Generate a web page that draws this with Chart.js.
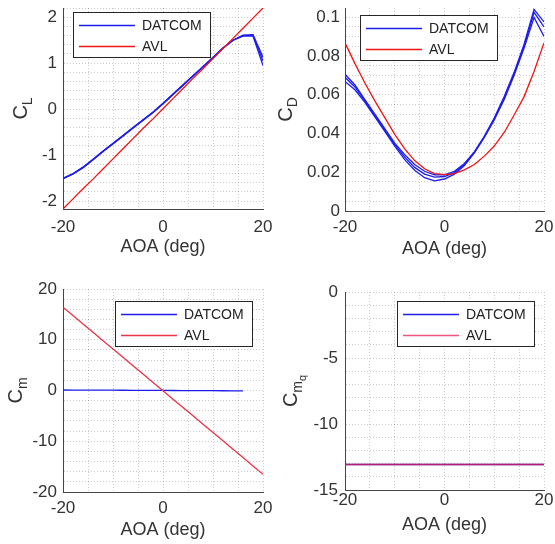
<!DOCTYPE html>
<html lang="en">
<head>
  <meta charset="UTF-8" />
  <title>DATCOM vs AVL</title>
  <style>
    body { margin: 0; background: #fff; }
    .panel { position: absolute; width: 278px; height: 272px; }
  </style>
  <script src="https://cdn.jsdelivr.net/npm/chart.js"></script>
</head>
<body>
  <div class="panel" style="left:0;top:0"><canvas id="cl" width="278" height="272"></canvas></div>
  <div class="panel" style="left:277px;top:0"><canvas id="cd" width="278" height="272"></canvas></div>
  <div class="panel" style="left:0;top:272px"><canvas id="cm" width="278" height="272"></canvas></div>
  <div class="panel" style="left:277px;top:272px"><canvas id="cmq" width="278" height="272"></canvas></div>

  <script>
    // angle of attack (deg)
    const aoa = [-20, -18, -16, -14, -12, -10, -8, -6, -4, -2, 0, 2, 4, 6, 8, 10, 12, 14, 16, 18, 20];
    const aoaCm = [-20, -18, -16, -14, -12, -10, -8, -6, -4, -2, 0, 2, 4, 6, 8, 10, 12, 14, 16];

    // lift
    const clDatcom1 = [-1.51, -1.41, -1.27, -1.10, -0.92, -0.75, -0.58, -0.41, -0.24, -0.07, 0.12, 0.32, 0.52, 0.72, 0.92, 1.12, 1.33, 1.50, 1.61, 1.62, 1.13];
    const clDatcom2 = [-1.51, -1.41, -1.27, -1.10, -0.92, -0.75, -0.58, -0.41, -0.24, -0.07, 0.12, 0.32, 0.52, 0.72, 0.92, 1.12, 1.33, 1.50, 1.60, 1.61, 1.05];
    const clDatcom3 = [-1.50, -1.40, -1.26, -1.09, -0.91, -0.74, -0.57, -0.40, -0.23, -0.06, 0.13, 0.33, 0.53, 0.73, 0.93, 1.13, 1.33, 1.50, 1.59, 1.59, 0.95];
    const clAvl = [-2.17, -1.95, -1.73, -1.52, -1.30, -1.08, -0.86, -0.64, -0.42, -0.21, 0.01, 0.23, 0.45, 0.67, 0.88, 1.10, 1.32, 1.54, 1.76, 1.98, 2.20];

    // drag
    const cdDatcom1 = [0.0705, 0.0650, 0.0575, 0.0500, 0.0425, 0.0350, 0.0290, 0.0240, 0.0205, 0.0187, 0.0186, 0.0205, 0.0245, 0.0305, 0.0385, 0.0480, 0.0590, 0.0715, 0.0860, 0.1040, 0.0975];
    const cdDatcom2 = [0.0690, 0.0640, 0.0568, 0.0492, 0.0417, 0.0342, 0.0278, 0.0225, 0.0190, 0.0175, 0.0178, 0.0198, 0.0240, 0.0302, 0.0382, 0.0475, 0.0582, 0.0708, 0.0850, 0.1025, 0.0950];
    const cdDatcom3 = [0.0668, 0.0625, 0.0560, 0.0485, 0.0410, 0.0335, 0.0265, 0.0210, 0.0172, 0.0155, 0.0165, 0.0190, 0.0235, 0.0300, 0.0380, 0.0470, 0.0575, 0.0700, 0.0840, 0.0998, 0.0900];
    const cdAvl = [0.0867, 0.0760, 0.0660, 0.0568, 0.0482, 0.0395, 0.0320, 0.0260, 0.0218, 0.0193, 0.0188, 0.0193, 0.0212, 0.0240, 0.0283, 0.0335, 0.0405, 0.0495, 0.0590, 0.0720, 0.0867];

    // pitching moment
    const cmDatcom = [0.10, 0.09, 0.09, 0.08, 0.07, 0.06, 0.05, 0.04, 0.03, 0.02, 0.01, 0.00, -0.01, -0.02, -0.03, -0.04, -0.05, -0.06, -0.07];
    const cmAvl = [16.40, 14.76, 13.11, 11.47, 9.82, 8.18, 6.53, 4.89, 3.24, 1.60, -0.05, -1.70, -3.34, -4.99, -6.63, -8.28, -9.92, -11.57, -13.21, -14.86, -16.50];

    // pitch damping
    const cmqDatcom = [-13.07, -13.07, -13.07, -13.07, -13.07, -13.07, -13.07, -13.07, -13.07, -13.07, -13.07, -13.07, -13.07, -13.07, -13.07, -13.07, -13.07, -13.07, -13.07, -13.07, -13.07];
    const cmqAvl = [-13.07, -13.07, -13.07, -13.07, -13.07, -13.07, -13.07, -13.07, -13.07, -13.07, -13.07, -13.07, -13.07, -13.07, -13.07, -13.07, -13.07, -13.07, -13.07, -13.07, -13.07];

    // tick labels
    const xTicks = [-20, 0, 20];
    const clTicks = [-2, -1, 0, 1, 2];
    const cdTicks = [0, 0.02, 0.04, 0.06, 0.08, 0.1];
    const cmTicks = [-20, -10, 0, 10, 20];
    const cmqTicks = [-15, -10, -5, 0];

    const FONT = '"Liberation Sans", Arial, Helvetica, sans-serif';
    const TXT = '#333';
    const BLUE = 'rgb(30,30,235)';
    const RED = 'rgb(240,20,20)';

    function pts(xs, ys) {
      return ys.map((y, i) => ({ x: xs[i], y: y }));
    }

    // grid at every minor step, label only the major ticks
    function minorTicks(min, max, step, major) {
      return {
        afterBuildTicks(s) {
          const list = [];
          for (let k = Math.ceil(min / step - 1e-6); k * step <= max + 1e-9; k++) {
            list.push({ value: +(k * step).toFixed(6) });
          }
          s.ticks = list;
        },
        callback(v) {
          return major.some(m => Math.abs(m - v) < step * 1e-3) ? String(+(+v).toFixed(4)) : '';
        }
      };
    }

    const yLabelPlugin = {
      id: 'ylab',
      afterDraw(chart, args, o) {
        const ctx = chart.ctx;
        const a = chart.chartArea;
        const parts = o.parts;
        ctx.save();
        let total = 0;
        parts.forEach(p => {
          ctx.font = p.size + 'px ' + FONT;
          p.w = ctx.measureText(p.t).width;
          total += p.w;
        });
        ctx.translate(o.x, (a.top + a.bottom) / 2 + (o.dy || 0));
        ctx.rotate(-Math.PI / 2);
        ctx.fillStyle = TXT;
        ctx.textBaseline = 'middle';
        let cx = -total / 2;
        parts.forEach(p => {
          ctx.font = p.size + 'px ' + FONT;
          ctx.fillText(p.t, cx, p.off);
          cx += p.w;
        });
        ctx.restore();
      }
    };

    const boxLegend = {
      id: 'boxLegend',
      afterDraw(chart, args, o) {
        const ctx = chart.ctx;
        const seen = [];
        chart.data.datasets.forEach(d => {
          if (!seen.find(s => s.label === d.label)) seen.push(d);
        });
        seen.sort((p, q) => p.legendRank - q.legendRank);
        ctx.save();
        ctx.fillStyle = '#fff';
        ctx.fillRect(o.x, o.y, 137, 45);
        ctx.strokeStyle = '#262626';
        ctx.lineWidth = 1;
        ctx.strokeRect(o.x + 0.5, o.y + 0.5, 137, 45);
        ctx.font = '14px ' + FONT;
        ctx.textBaseline = 'middle';
        seen.forEach((d, i) => {
          const yy = o.y + 13.5 + i * 21;
          ctx.strokeStyle = d.borderColor;
          ctx.lineWidth = 1.3;
          ctx.beginPath();
          ctx.moveTo(o.x + 6, yy);
          ctx.lineTo(o.x + 62, yy);
          ctx.stroke();
          ctx.fillStyle = '#222';
          ctx.fillText(d.label, o.x + 69, yy + 0.5);
        });
        ctx.restore();
      }
    };

    function makeChart(id, c) {
      const datasets = [];
      c.datcom.forEach(s => {
        datasets.push({ label: 'DATCOM', data: pts(s.x, s.y), borderColor: c.blue || BLUE, borderWidth: 1.3, pointRadius: 0, order: 1, legendRank: 0 });
      });
      datasets.push({ label: 'AVL', data: pts(c.avl.x, c.avl.y), borderColor: c.red || RED, borderWidth: 1.3, pointRadius: 0, order: 0, legendRank: 1 });

      const gridOpts = { color: 'rgba(0,0,0,0.2)', lineWidth: 1, drawTicks: false };
      const xt = minorTicks(-20, 20, 5, xTicks);
      const yt = minorTicks(c.ymin, c.ymax, c.ystep, c.yTicks);

      return new Chart(document.getElementById(id), {
        type: 'line',
        data: { datasets: datasets },
        plugins: [yLabelPlugin, boxLegend],
        options: {
          responsive: false,
          animation: false,
          layout: { padding: { left: 0, right: c.pad.right, top: c.pad.top, bottom: 0 } },
          plugins: {
            legend: { display: false },
            tooltip: { enabled: false },
            ylab: c.ylab,
            boxLegend: c.legend
          },
          scales: {
            x: {
              type: 'linear',
              min: -20,
              max: 20,
              grid: gridOpts,
              border: { display: true, color: '#444', width: 1, dash: [1, 2] },
              afterBuildTicks: xt.afterBuildTicks,
              afterFit(s) { s.height = c.xh; s.paddingLeft = 0; s.paddingRight = 0; },
              ticks: { callback: xt.callback, autoSkip: false, maxRotation: 0, padding: c.xpad, color: TXT, font: { family: FONT, size: 17 } },
              title: { display: true, text: 'AOA (deg)', color: TXT, font: { family: FONT, size: 18 }, padding: { top: 0, bottom: c.tpad } }
            },
            y: {
              type: 'linear',
              min: c.ymin,
              max: c.ymax,
              grid: gridOpts,
              border: { display: true, color: '#444', width: 1, dash: [1, 2] },
              afterBuildTicks: yt.afterBuildTicks,
              afterFit(s) { s.width = c.yw; s.paddingTop = 0; s.paddingBottom = 0; },
              ticks: { callback: yt.callback, autoSkip: false, padding: c.ypad, color: TXT, font: { family: FONT, size: 17 } }
            }
          }
        }
      });
    }

    makeChart('cl', {
      datcom: [{ x: aoa, y: clDatcom1 }, { x: aoa, y: clDatcom2 }, { x: aoa, y: clDatcom3 }],
      avl: { x: aoa, y: clAvl },
      ymin: -2.17, ymax: 2.2, ystep: 0.2, yTicks: clTicks,
      pad: { right: 15, top: 8 }, yw: 63, xh: 63, xpad: 8, tpad: 14, ypad: 6,
      ylab: { x: 21, parts: [{ t: 'C', size: 20, off: 0 }, { t: 'L', size: 14, off: 7 }] },
      legend: { x: 73, y: 12 }
    });

    makeChart('cd', {
      datcom: [{ x: aoa, y: cdDatcom1 }, { x: aoa, y: cdDatcom2 }, { x: aoa, y: cdDatcom3 }],
      avl: { x: aoa, y: cdAvl },
      ymin: 0, ymax: 0.1047, ystep: 0.005, yTicks: cdTicks,
      pad: { right: 11, top: 8 }, yw: 68, xh: 61, xpad: 6, tpad: 12, ypad: 5,
      ylab: { x: 9.5, parts: [{ t: 'C', size: 20, off: 0 }, { t: 'D', size: 14, off: 7 }] },
      legend: { x: 83, y: 15 }
    });

    makeChart('cm', {
      datcom: [{ x: aoaCm, y: cmDatcom }],
      avl: { x: aoa, y: cmAvl },
      red: 'rgb(235,50,70)',
      ymin: -20, ymax: 20, ystep: 2, yTicks: cmTicks,
      pad: { right: 15, top: 17 }, yw: 63, xh: 52, xpad: 6, tpad: 3, ypad: 6,
      ylab: { x: 16, parts: [{ t: 'C', size: 20, off: 0 }, { t: 'm', size: 14, off: 7 }] },
      legend: { x: 115, y: 29 }
    });

    makeChart('cmq', {
      datcom: [{ x: aoa, y: cmqDatcom }],
      avl: { x: aoa, y: cmqAvl },
      red: 'rgba(235,30,80,0.75)',
      ymin: -15, ymax: 0, ystep: 1, yTicks: cmqTicks,
      pad: { right: 11, top: 20 }, yw: 68, xh: 54, xpad: 0, tpad: 8, ypad: 7,
      ylab: { x: 14, parts: [{ t: 'C', size: 20, off: 0 }, { t: 'm', size: 14, off: 7 }, { t: 'q', size: 11, off: 12 }] },
      legend: { x: 120, y: 29 }
    });
  </script>
</body>
</html>
